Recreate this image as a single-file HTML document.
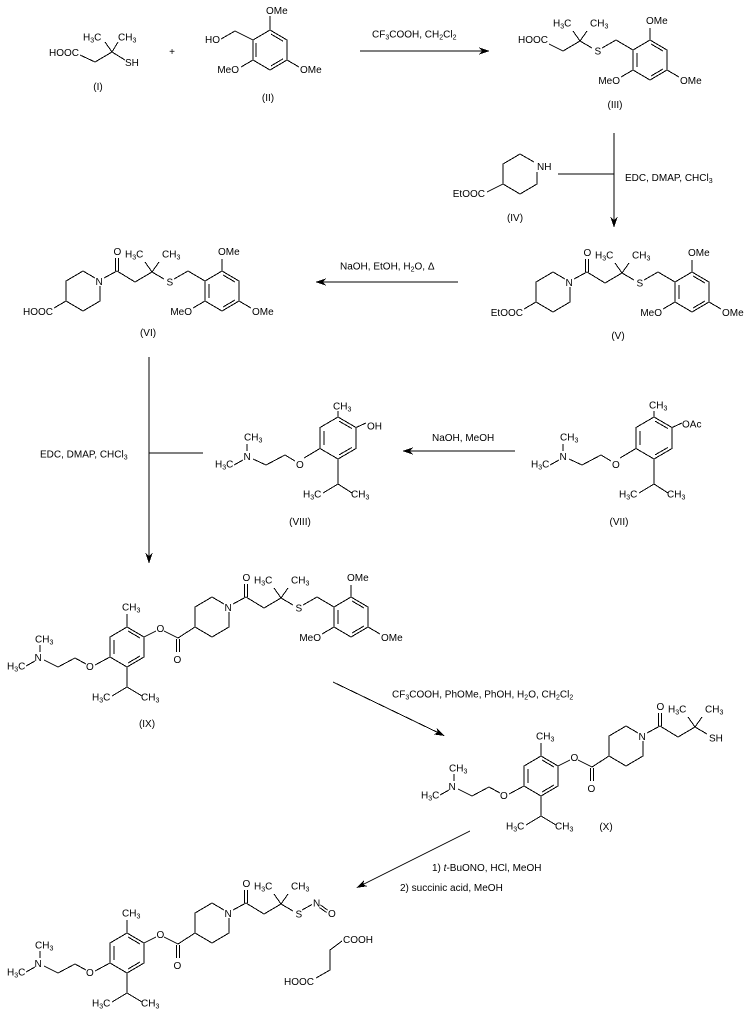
<!DOCTYPE html>
<html><head><meta charset="utf-8">
<style>
html,body{margin:0;padding:0;background:#fff;}
svg{display:block;}
text{font-family:"Liberation Sans",Arial,sans-serif;font-size:10px;fill:#000;}
.s{font-size:7px;}
.ln{fill:none;stroke:#000;stroke-width:1;shape-rendering:crispEdges;}
polygon{shape-rendering:crispEdges;}
</style></head><body>
<svg width="749" height="1020" viewBox="0 0 749 1020">
<defs>
<g id="Pl" class="ln">
<polyline points="95,278 83,271 66,281 66,301 83,311 100,301 100,286"/>
<line x1="104" y1="278" x2="117" y2="271"/>
<line x1="115.5" y1="271" x2="115.5" y2="258"/>
<line x1="118.5" y1="271" x2="118.5" y2="258"/>
<line x1="117" y1="271" x2="135" y2="282"/>
</g>
<g id="Ql" class="ln">
<polyline points="135,282 152,272 164,279"/>
<line x1="152" y1="272" x2="145" y2="262"/>
<line x1="152" y1="272" x2="159" y2="262"/>
</g>
<g id="Bl" class="ln">
<polyline points="174,279 188,271 205,281"/>
<polygon points="205,281 222,271 239,281 239,301 222,311 205,301"/>
<line x1="209" y1="284" x2="209" y2="298"/>
<line x1="223" y1="275" x2="235" y2="282"/>
<line x1="235" y1="300" x2="223" y2="307"/>
<line x1="222" y1="271" x2="222" y2="259"/>
<line x1="205" y1="301" x2="193" y2="308"/>
<line x1="239" y1="301" x2="251" y2="308"/>
</g>
<g id="Al" class="ln">
<polygon points="110,637 127,627 144,637 144,657 127,667 110,657"/>
<line x1="114" y1="640" x2="114" y2="654"/>
<line x1="128" y1="631" x2="140" y2="638"/>
<line x1="140" y1="656" x2="128" y2="663"/>
<line x1="127" y1="627" x2="127" y2="614"/>
<line x1="144" y1="637" x2="156" y2="631"/>
<line x1="164" y1="631" x2="178" y2="638"/>
<line x1="176.5" y1="639" x2="176.5" y2="652"/>
<line x1="179.5" y1="639" x2="179.5" y2="652"/>
<line x1="178" y1="638" x2="195" y2="627"/>
<line x1="110" y1="657" x2="95" y2="665"/>
<polyline points="86,664 75,658 58,667 44,660"/>
<line x1="40" y1="645" x2="40" y2="652"/>
<line x1="35" y1="661" x2="26" y2="666"/>
<line x1="127" y1="667" x2="127" y2="687"/>
<polyline points="112,696 127,687 142,696"/>
</g>
<g id="Vl" class="ln">
<polygon points="320,427.5 338,417 356,427.5 356,448.5 338,459 320,448.5"/>
<line x1="324" y1="431" x2="324" y2="445"/>
<line x1="339.2" y1="421.2" x2="351.8" y2="428.5"/>
<line x1="351.8" y1="447.5" x2="339.2" y2="454.8"/>
<line x1="338" y1="417" x2="338" y2="411"/>
<line x1="320" y1="448.5" x2="304" y2="458"/>
<polyline points="295,461 285,455 266,465 253,459"/>
<line x1="247" y1="451" x2="247" y2="444"/>
<line x1="243" y1="460" x2="234" y2="465"/>
<line x1="338" y1="459" x2="338" y2="484"/>
<polyline points="323,493 338,484 352,493"/>
<line x1="356" y1="427.5" x2="366" y2="423"/>
</g>
</defs>

<!-- Compound I -->
<g class="ln">
<polyline points="80,55 95,62 112,52 125,60"/>
<line x1="112" y1="52" x2="105" y2="42"/>
<line x1="112" y1="52" x2="118" y2="42"/>
</g>
<text x="49" y="56">HOOC</text>
<text x="83" y="40.5">H<tspan class="s" dy="2">3</tspan><tspan dy="-2">C</tspan></text>
<text x="118" y="40.5">CH<tspan class="s" dy="2">3</tspan></text>
<text x="125" y="66">SH</text>
<text x="98" y="90" text-anchor="middle">(I)</text>
<text x="172" y="55" text-anchor="middle">+</text>

<!-- Compound II -->
<g class="ln">
<polyline points="221,39 235,31 253,40"/>
<polygon points="253,40 270,30 287,40 287,60 270,70 253,60"/>
<line x1="256" y1="43" x2="256" y2="57"/>
<line x1="271" y1="34.1" x2="282.9" y2="41.1"/>
<line x1="282.9" y1="58.9" x2="271" y2="65.9"/>
<line x1="270" y1="30" x2="270" y2="16"/>
<line x1="253" y1="60" x2="241" y2="67"/>
<line x1="287" y1="60" x2="299" y2="67"/>
</g>
<text x="205" y="43">HO</text>
<text x="266" y="14">OMe</text>
<text x="239" y="73" text-anchor="end">MeO</text>
<text x="300" y="73">OMe</text>
<text x="268" y="101" text-anchor="middle">(II)</text>

<!-- Arrow 1 -->
<line class="ln" x1="360" y1="51" x2="483" y2="51"/>
<polygon points="490,51 479,47.5 482,51 479,54.5" fill="#000"/>
<text x="372" y="37.5">CF<tspan class="s" dy="2">3</tspan><tspan dy="-2">COOH, CH</tspan><tspan class="s" dy="2">2</tspan><tspan dy="-2">Cl</tspan><tspan class="s" dy="2">2</tspan></text>

<!-- Compound III -->
<use href="#Ql" transform="translate(428,-231)"/>
<use href="#Bl" transform="translate(428,-231)"/>
<line class="ln" x1="549" y1="44" x2="563" y2="51"/>
<text x="548" y="43" text-anchor="end">HOOC</text>
<g transform="translate(428,-231)">
<text x="125" y="257.5">H<tspan class="s" dy="2">3</tspan><tspan dy="-2">C</tspan></text>
<text x="162" y="257.5">CH<tspan class="s" dy="2">3</tspan></text>
<text x="166.5" y="285.5">S</text>
<text x="218" y="255">OMe</text>
<text x="192" y="315" text-anchor="end">MeO</text>
<text x="252" y="315">OMe</text>
</g>
<text x="615" y="108" text-anchor="middle">(III)</text>

<!-- Compound IV -->
<g class="ln">
<polyline points="534,162 520,154 503,164 503,184 520,194 537,184 537,172"/>
<line x1="503" y1="184" x2="487" y2="192"/>
</g>
<text x="537" y="170">NH</text>
<text x="485" y="197" text-anchor="end">EtOOC</text>
<text x="515" y="221" text-anchor="middle">(IV)</text>

<!-- Arrow IV/III -> V -->
<g class="ln">
<line x1="614" y1="133" x2="614" y2="221"/>
<line x1="558" y1="174" x2="614" y2="174"/>
</g>
<polygon points="614,228 610.5,217 614,220 617.5,217" fill="#000"/>
<text x="625" y="181">EDC, DMAP, CHCl<tspan class="s" dy="2">3</tspan></text>

<!-- Compound V -->
<use href="#Pl" transform="translate(470,1)"/>
<use href="#Ql" transform="translate(470,1)"/>
<use href="#Bl" transform="translate(470,1)"/>
<g transform="translate(470,1)">
<line class="ln" x1="66" y1="301" x2="54" y2="308"/>
<text x="95.5" y="285">N</text>
<text x="113.5" y="255">O</text>
<text x="125" y="257.5">H<tspan class="s" dy="2">3</tspan><tspan dy="-2">C</tspan></text>
<text x="162" y="257.5">CH<tspan class="s" dy="2">3</tspan></text>
<text x="166.5" y="285.5">S</text>
<text x="218" y="255">OMe</text>
<text x="192" y="315" text-anchor="end">MeO</text>
<text x="252" y="315">OMe</text>
<text x="53" y="315" text-anchor="end">EtOOC</text>
<text x="148" y="338" text-anchor="middle">(V)</text>
</g>

<!-- Arrow V -> VI -->
<line class="ln" x1="321" y1="282" x2="458" y2="282"/>
<polygon points="315,282 326,278.5 323,282 326,285.5" fill="#000"/>
<text x="340" y="269.5">NaOH, EtOH, H<tspan class="s" dy="2">2</tspan><tspan dy="-2">O, &#916;</tspan></text>

<!-- Compound VI -->
<use href="#Pl"/>
<use href="#Ql"/>
<use href="#Bl"/>
<line class="ln" x1="66" y1="301" x2="54" y2="308"/>
<text x="95.5" y="285">N</text>
<text x="113.5" y="255">O</text>
<text x="125" y="257.5">H<tspan class="s" dy="2">3</tspan><tspan dy="-2">C</tspan></text>
<text x="162" y="257.5">CH<tspan class="s" dy="2">3</tspan></text>
<text x="166.5" y="285.5">S</text>
<text x="218" y="255">OMe</text>
<text x="192" y="315" text-anchor="end">MeO</text>
<text x="252" y="315">OMe</text>
<text x="53" y="315" text-anchor="end">HOOC</text>
<text x="148" y="336" text-anchor="middle">(VI)</text>

<!-- Arrow VI -> IX -->
<g class="ln">
<line x1="149" y1="357" x2="149" y2="557"/>
<line x1="149" y1="453" x2="203" y2="453"/>
</g>
<polygon points="149,564 145.5,553 149,556 152.5,553" fill="#000"/>
<text x="40" y="457.5">EDC, DMAP, CHCl<tspan class="s" dy="2">3</tspan></text>

<!-- Compound VIII -->
<use href="#Vl"/>
<text x="333" y="409.5">CH<tspan class="s" dy="2">3</tspan></text>
<text x="367" y="429.5">OH</text>
<text x="296" y="468">O</text>
<text x="243.5" y="460">N</text>
<text x="244" y="440.5">CH<tspan class="s" dy="2">3</tspan></text>
<text x="215" y="467.5">H<tspan class="s" dy="2">3</tspan><tspan dy="-2">C</tspan></text>
<text x="303" y="497.5">H<tspan class="s" dy="2">3</tspan><tspan dy="-2">C</tspan></text>
<text x="351" y="497.5">CH<tspan class="s" dy="2">3</tspan></text>
<text x="300" y="525" text-anchor="middle">(VIII)</text>

<!-- Arrow VII -> VIII -->
<line class="ln" x1="408" y1="451" x2="515" y2="451"/>
<polygon points="402,451 413,447.5 410,451 413,454.5" fill="#000"/>
<text x="432" y="441">NaOH, MeOH</text>

<!-- Compound VII -->
<use href="#Vl" transform="translate(316,0)"/>
<g transform="translate(316,0)">
<text x="333" y="408.5">CH<tspan class="s" dy="2">3</tspan></text>
<text x="366" y="427.5">OAc</text>
<text x="296" y="468">O</text>
<text x="243.5" y="460">N</text>
<text x="244" y="440.5">CH<tspan class="s" dy="2">3</tspan></text>
<text x="215" y="467.5">H<tspan class="s" dy="2">3</tspan><tspan dy="-2">C</tspan></text>
<text x="303" y="497.5">H<tspan class="s" dy="2">3</tspan><tspan dy="-2">C</tspan></text>
<text x="351" y="497.5">CH<tspan class="s" dy="2">3</tspan></text>
</g>
<text x="619" y="525" text-anchor="middle">(VII)</text>

<!-- Compound IX -->
<use href="#Al"/>
<text x="122" y="610.5">CH<tspan class="s" dy="2">3</tspan></text>
<text x="156.5" y="632">O</text>
<text x="173.5" y="663">O</text>
<text x="86" y="670">O</text>
<text x="34.5" y="661">N</text>
<text x="35" y="642.5">CH<tspan class="s" dy="2">3</tspan></text>
<text x="7" y="669.5">H<tspan class="s" dy="2">3</tspan><tspan dy="-2">C</tspan></text>
<text x="92" y="700.5">H<tspan class="s" dy="2">3</tspan><tspan dy="-2">C</tspan></text>
<text x="141" y="700.5">CH<tspan class="s" dy="2">3</tspan></text>
<use href="#Pl" transform="translate(129,326)"/>
<use href="#Ql" transform="translate(129,326)"/>
<use href="#Bl" transform="translate(129,326)"/>
<g transform="translate(129,326)">
<text x="95.5" y="285">N</text>
<text x="113.5" y="255">O</text>
<text x="125" y="257.5">H<tspan class="s" dy="2">3</tspan><tspan dy="-2">C</tspan></text>
<text x="162" y="257.5">CH<tspan class="s" dy="2">3</tspan></text>
<text x="166.5" y="285.5">S</text>
<text x="218" y="255">OMe</text>
<text x="192" y="315" text-anchor="end">MeO</text>
<text x="252" y="315">OMe</text>
</g>
<text x="147" y="727" text-anchor="middle">(IX)</text>

<!-- Arrow IX -> X -->
<line class="ln" x1="333" y1="682" x2="437.8" y2="732.5"/>
<polygon points="445,736 436.6,728 437.8,732.5 433.6,734.4" fill="#000"/>
<text x="392" y="697.5">CF<tspan class="s" dy="2">3</tspan><tspan dy="-2">COOH, PhOMe, PhOH, H</tspan><tspan class="s" dy="2">2</tspan><tspan dy="-2">O, CH</tspan><tspan class="s" dy="2">2</tspan><tspan dy="-2">Cl</tspan><tspan class="s" dy="2">2</tspan></text>

<!-- Compound X -->
<use href="#Al" transform="translate(414,129)"/>
<g transform="translate(414,129)">
<text x="122" y="610.5">CH<tspan class="s" dy="2">3</tspan></text>
<text x="156.5" y="632">O</text>
<text x="173.5" y="663">O</text>
<text x="86" y="670">O</text>
<text x="34.5" y="661">N</text>
<text x="35" y="642.5">CH<tspan class="s" dy="2">3</tspan></text>
<text x="7" y="669.5">H<tspan class="s" dy="2">3</tspan><tspan dy="-2">C</tspan></text>
<text x="92" y="700.5">H<tspan class="s" dy="2">3</tspan><tspan dy="-2">C</tspan></text>
<text x="141" y="700.5">CH<tspan class="s" dy="2">3</tspan></text>
</g>
<use href="#Pl" transform="translate(543,455)"/>
<use href="#Ql" transform="translate(543,455)"/>
<g transform="translate(543,455)">
<text x="95.5" y="285">N</text>
<text x="113.5" y="255">O</text>
<text x="125" y="257.5">H<tspan class="s" dy="2">3</tspan><tspan dy="-2">C</tspan></text>
<text x="162" y="257.5">CH<tspan class="s" dy="2">3</tspan></text>
</g>
<text x="709" y="741.5">SH</text>
<text x="606" y="830" text-anchor="middle">(X)</text>

<!-- Arrow X -> final -->
<line class="ln" x1="470" y1="831" x2="363.2" y2="884.4"/>
<polygon points="356,888 364.3,880 363.2,884.4 367.4,886.2" fill="#000"/>
<text x="432" y="871">1) <tspan font-style="italic">t</tspan>-BuONO, HCl, MeOH</text>
<text x="400" y="891">2) succinic acid, MeOH</text>

<!-- Final compound -->
<use href="#Al" transform="translate(0,306)"/>
<g transform="translate(0,306)">
<text x="122" y="610.5">CH<tspan class="s" dy="2">3</tspan></text>
<text x="156.5" y="632">O</text>
<text x="173.5" y="663">O</text>
<text x="86" y="670">O</text>
<text x="34.5" y="661">N</text>
<text x="35" y="642.5">CH<tspan class="s" dy="2">3</tspan></text>
<text x="7" y="669.5">H<tspan class="s" dy="2">3</tspan><tspan dy="-2">C</tspan></text>
<text x="92" y="700.5">H<tspan class="s" dy="2">3</tspan><tspan dy="-2">C</tspan></text>
<text x="141" y="700.5">CH<tspan class="s" dy="2">3</tspan></text>
</g>
<use href="#Pl" transform="translate(129,632)"/>
<use href="#Ql" transform="translate(129,632)"/>
<g transform="translate(129,632)">
<text x="95.5" y="285">N</text>
<text x="113.5" y="255">O</text>
<text x="125" y="257.5">H<tspan class="s" dy="2">3</tspan><tspan dy="-2">C</tspan></text>
<text x="162" y="257.5">CH<tspan class="s" dy="2">3</tspan></text>
<text x="166.5" y="285.5">S</text>
</g>
<g class="ln">
<line x1="302" y1="910" x2="312" y2="904.5"/>
<line x1="320.5" y1="905" x2="327.5" y2="910"/>
<line x1="319.5" y1="907.5" x2="326.5" y2="912.5"/>
<polyline points="342,941 330,950 330,970 316,978"/>
</g>
<text x="313" y="906.5">N</text>
<text x="328" y="917">O</text>
<text x="343" y="943">COOH</text>
<text x="314" y="985" text-anchor="end">HOOC</text>
</svg>
</body></html>
